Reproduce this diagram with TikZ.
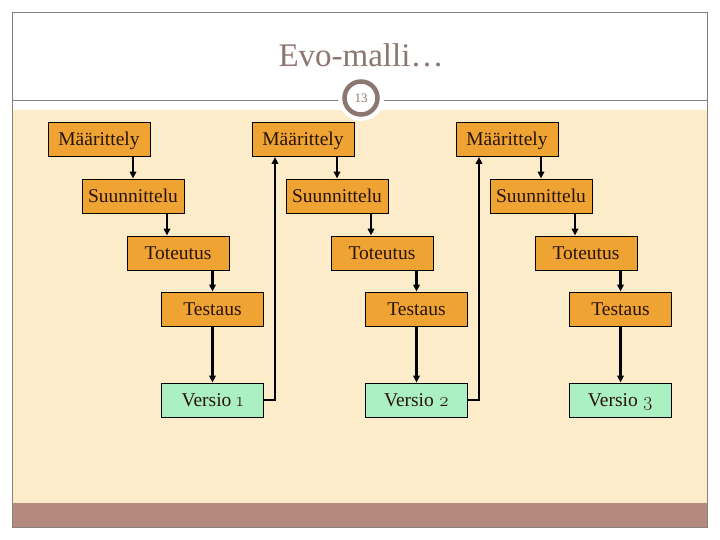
\documentclass[tikz,border=0pt]{standalone}
\usepackage{fontspec}
\setmainfont{Liberation Serif}
\newfontfamily\osf{Latin Modern Roman}[Numbers=OldStyle]
\usetikzlibrary{arrows.meta,calc}
\definecolor{cream}{RGB}{252,236,201}
\definecolor{band}{RGB}{180,138,126}
\definecolor{framec}{RGB}{140,128,122}
\definecolor{titlec}{RGB}{140,118,112}
\definecolor{boxor}{RGB}{239,163,50}
\definecolor{boxgr}{RGB}{170,240,192}
\definecolor{txt}{RGB}{40,20,12}
\tikzset{
  stage/.style={draw=black,line width=0.9pt,fill=boxor,minimum width=102pt,minimum height=34pt,inner sep=0pt,text height=15pt,text depth=2pt,font=\fontsize{19.5}{22}\selectfont,text=txt},
  version/.style={stage,fill=boxgr},
  arr/.style={line width=2.2pt,-{Triangle[length=7pt,width=6.5pt]}},
}
\begin{document}
\begin{tikzpicture}[x=1pt,y=-1pt]
\useasboundingbox (0,0) rectangle (720,540);
\fill[white] (0,0) rectangle (720,540);
\fill[cream] (12,110) rectangle (707,503);
\fill[band] (12,503) rectangle (707,527);
\draw[framec,line width=0.8pt] (12,12) rectangle (707,527);
\draw[framec,line width=0.8pt] (12,100) -- (707,100);
\node[text=titlec,font=\fontsize{33}{36}\selectfont] (title) at (361,55) {Evo-malli…};
\fill[white] (361,98) circle (23);
\node[circle,draw=titlec,line width=4.5pt,fill=white,minimum size=33pt,inner sep=0pt,text=titlec,font=\fontsize{13}{15}\selectfont] (num) at (361,98) {13};
% column 1
\node[stage] (M1) at (99,139.5) {Määrittely};
\node[stage] (S1) at (133,196) {Suunnittelu};
\node[stage] (T1) at (178,253) {Toteutus};
\node[stage] (E1) at (212.5,309) {Testaus};
\node[version] (V1) at (212.5,400) {Versio {\osf 1}};
% column 2
\node[stage] (M2) at (303,139.5) {Määrittely};
\node[stage] (S2) at (337,196) {Suunnittelu};
\node[stage] (T2) at (382,253) {Toteutus};
\node[stage] (E2) at (416.5,309) {Testaus};
\node[version] (V2) at (416.5,400) {Versio {\osf 2}};
% column 3
\node[stage] (M3) at (507,139.5) {Määrittely};
\node[stage] (S3) at (541,196) {Suunnittelu};
\node[stage] (T3) at (586,253) {Toteutus};
\node[stage] (E3) at (620.5,309) {Testaus};
\node[version] (V3) at (620.5,400) {Versio {\osf 3}};
\foreach \i in {1,2,3}{
  \draw[arr] (S\i.north |- M\i.south) -- (S\i.north);
  \draw[arr] ([xshift=34pt]S\i.south) -- ([xshift=-11pt]T\i.north);
  \draw[arr] (E\i.north |- T\i.south) -- (E\i.north);
  \draw[arr] (E\i.south) -- (V\i.north);
}
\draw[arr] (V1.east) -| ([xshift=-28pt]M2.south);
\draw[arr] (V2.east) -| ([xshift=-28pt]M3.south);
\end{tikzpicture}
\end{document}
